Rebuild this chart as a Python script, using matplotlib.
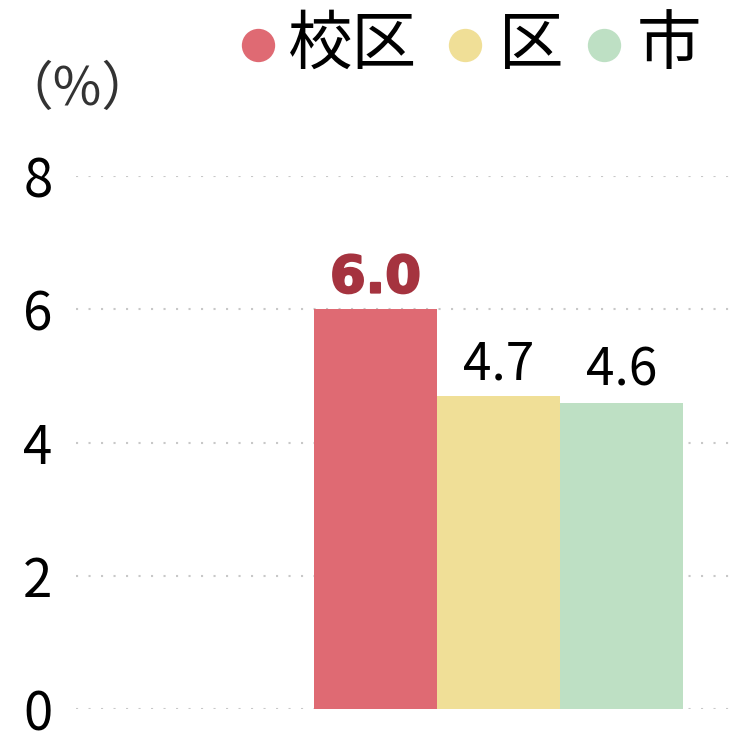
import matplotlib.pyplot as plt
import matplotlib.patheffects as pe

plt.rcParams['font.family'] = ['Noto Sans CJK JP', 'DejaVu Sans']

labels = ['校区', '区', '市']
values = [6.0, 4.7, 4.6]
colors = ['#df6a73', '#f0df97', '#bee0c4']
value_colors = ['#a5333f', '#000000', '#000000']
value_weights = ['bold', 'normal', 'normal']
yticks = [0, 2, 4, 6, 8]

fig = plt.figure(figsize=(7.3, 7.32), dpi=100)
ax = fig.add_axes([76 / 730, 23 / 732, 654 / 730, 533 / 732])

x = list(range(len(values)))
ax.bar(x, values, width=1.0, color=colors, zorder=2)

for xi, v, c, w in zip(x, values, value_colors, value_weights):
    if w == 'bold':
        ax.annotate(f"{v:.1f}", (xi, v), xytext=(0, 12), textcoords='offset points',
                    ha='center', va='baseline', fontsize=37, color=c,
                    fontweight='bold', family='DejaVu Sans',
                    path_effects=[pe.withStroke(linewidth=1.5, foreground=c)])
    else:
        ax.annotate(f"{v:.1f}", (xi, v), xytext=(0, 12), textcoords='offset points',
                    ha='center', va='baseline', fontsize=37, color=c)

ax.set_ylim(0, 8)
ax.set_xlim(-2.435, 2.882)
ax.set_yticks(yticks)
ax.set_yticklabels([str(t) for t in yticks], fontsize=38)
ax.set_xticks([])
ax.tick_params(axis='y', length=0, pad=17)
ax.yaxis.grid(True, color='#c8c8c8', linestyle=(0, (1, 5)), linewidth=1.5)
ax.set_axisbelow(True)
for s in ax.spines.values():
    s.set_visible(False)

fig.text(77.5 / 730, 1 - 89 / 732, '（%）', fontsize=38, color='#333333', ha='center', va='center')

# legend drawn by hand
leg_marker_x = [257.5, 464.5, 604]
leg_text_x = [288, 499, 637]
for mx, tx, lab, c in zip(leg_marker_x, leg_text_x, labels, colors):
    fig.add_artist(plt.Line2D([mx / 730], [1 - 45 / 732], transform=fig.transFigure,
                              linestyle='none', marker='o', markersize=24,
                              markerfacecolor=c, markeredgecolor='none'))
    fig.text(tx / 730, 1 - 64 / 732, lab, fontsize=46.5, color='#000000',
             ha='left', va='baseline')

fig.savefig('out.png', dpi=100)
